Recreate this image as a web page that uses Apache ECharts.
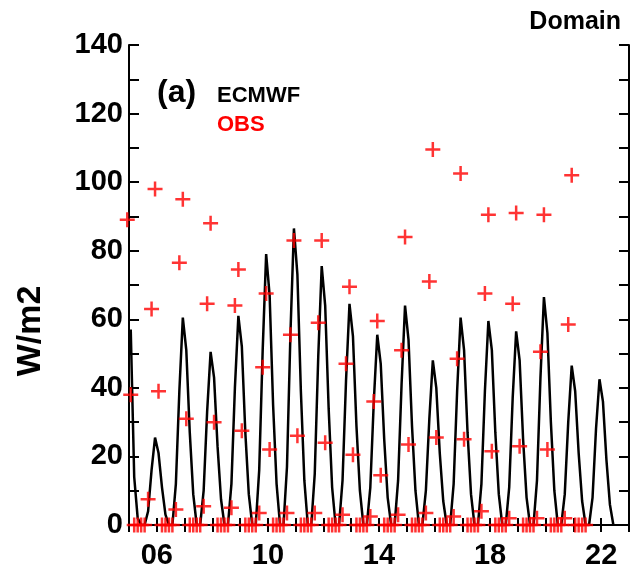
<!DOCTYPE html>
<html>
<head>
<meta charset="utf-8">
<script src="https://cdn.jsdelivr.net/npm/echarts@6/dist/echarts.min.js"></script>
<style>html,body{margin:0;padding:0;background:#fff}#c{width:632px;height:573px}</style>
</head>
<body>
<div id="c"></div>
<script>
// Days covered by each row of values (day of month)
const firstDay = 5;
// 3-hourly sample times relative to each day (fraction of a day)
const hourOffsets = [-0.4375, -0.3125, -0.1875, -0.0625, 0.0625, 0.1875, 0.3125, 0.4375];
// ECMWF model (W/m2), one row per day 05..22
const ecmwfRows = [
  [null, null, null, null, 57, 14, 2, 0],
  [0, 4, 16, 25.5, 21, 11, 3, 0],
  [0, 12, 39, 60.5, 51, 27, 9, 0],
  [0, 10, 33, 50.5, 43, 23, 7.5, 0],
  [0, 12, 40, 61, 52, 27, 9, 0],
  [0, 16, 51, 79, 67, 35, 12, 0],
  [0, 17, 56, 86.5, 73, 39, 13, 0],
  [0, 15, 49, 75.5, 64, 34, 11, 0],
  [0, 13, 42, 64.5, 55, 29, 10, 0],
  [0, 11, 36, 55.5, 47, 25, 8, 0],
  [0, 13, 41, 64, 54, 29, 10, 0],
  [0, 10, 31, 48, 40, 21, 7, 0],
  [0, 12, 39, 60.5, 51, 27, 9, 0],
  [0, 12, 39, 59.5, 51, 27, 9, 0],
  [0, 11, 37, 56.5, 48, 25, 8, 0],
  [0, 13, 43, 66.5, 56, 30, 10, 0],
  [0, 9, 30, 46.5, 39, 21, 7, 0],
  [0, 8, 28, 42.5, 36, 19, 6, 0]
];
// Observations (W/m2), one row per day 05..21
const obsRows = [
  [null, null, null, 89, 38, 0, 0, 0],
  [0, 7.5, 63, 98, 39, 0, 0, 0],
  [0, 4.5, 76.5, 95, 31, 0, 0, 0],
  [0, 5.5, 64.5, 88, 30, 0, 0, 0],
  [0, 5, 64, 74.5, 27.5, 0, 0, 0],
  [0, 3.5, 46, 67.5, 22, 0, 0, 0],
  [0, 3.5, 55.5, 83, 26, 0, 0, 0],
  [0, 3.5, 59, 83, 24, 0, 0, 0],
  [0, 3, 47, 69.5, 20.5, 0, 0, 0],
  [0, 2.5, 36, 59.5, 14.5, 0, 0, 0],
  [0, 3, 51, 84, 23.5, 0, 0, 0],
  [0, 3.5, 71, 109.5, 25.5, 0, 0, 0],
  [0, 2.5, 48.5, 102.5, 25, 0, 0, 0],
  [0, 4, 67.5, 90.5, 21.5, 0, 0, 0],
  [0, 2, 64.5, 91, 23, 0, 0, 0],
  [0, 2, 50.5, 90.5, 22, 0, 0, 0],
  [0, 2, 58.5, 102, 0, 0, 0, 0]
];
const xTickLabels = ['06', '10', '14', '18', '22'];
const yTickLabels = ['0', '20', '40', '60', '80', '100', '120', '140'];

function toPoints(rows) {
  const pts = [];
  rows.forEach((row, i) => {
    row.forEach((v, j) => {
      if (v !== null) pts.push([firstDay + i + hourOffsets[j], v]);
    });
  });
  return pts;
}

const FONT = '"Liberation Sans", Arial, sans-serif';
const plus = 'path://M5,0H7V5H12V7H7V12H5V7H0V5H5Z';

const chart = echarts.init(document.getElementById('c'), null, {renderer: 'canvas'});
const xCommon = {type: 'value', min: 5, max: 23, interval: 1,
  splitLine: {show: false},
  axisLine: {lineStyle: {color: '#000', width: 2}}};
const yCommon = {type: 'value', min: 0, max: 140, interval: 20,
  splitLine: {show: false}, minorSplitLine: {show: false},
  axisLine: {show: true, lineStyle: {color: '#000', width: 2}},
  axisTick: {show: true, inside: true, length: 10, lineStyle: {color: '#000', width: 2}},
  minorTick: {show: true, splitNumber: 2, length: 10, lineStyle: {color: '#000', width: 2}}};

chart.setOption({
  animation: false,
  backgroundColor: '#fff',
  grid: {left: 129, top: 45, width: 505, height: 480},
  xAxis: [
    Object.assign({}, xCommon, {position: 'bottom',
      axisTick: {inside: true, length: 7, lineStyle: {color: '#000', width: 2}},
      axisLabel: {margin: 16, color: '#000', fontFamily: FONT, fontWeight: 'bold', fontSize: 29,
        formatter: v => { const s = String(v).padStart(2, '0'); return xTickLabels.includes(s) ? s : ''; }}}),
    Object.assign({}, xCommon, {position: 'top',
      axisTick: {inside: true, length: 7, lineStyle: {color: '#000', width: 2}},
      axisLabel: {show: false}})
  ],
  yAxis: [
    Object.assign({}, yCommon, {position: 'left',
      axisLabel: {margin: 6, color: '#000', fontFamily: FONT, fontWeight: 'bold', fontSize: 29,
        formatter: v => yTickLabels.includes(String(v)) ? String(v) : ''}}),
    Object.assign({}, yCommon, {position: 'right', axisLabel: {show: false}})
  ],
  graphic: [
    {type: 'text', style: {text: 'Domain', x: 621, y: 22, align: 'right', verticalAlign: 'middle',
      font: 'bold 25px ' + FONT, fill: '#000'}},
    {type: 'text', style: {text: '(a)', x: 157, y: 93, align: 'left', verticalAlign: 'middle',
      font: 'bold 32px ' + FONT, fill: '#000'}},
    {type: 'text', style: {text: 'ECMWF', x: 217, y: 96, align: 'left', verticalAlign: 'middle',
      font: 'bold 22px ' + FONT, fill: '#000'}},
    {type: 'text', style: {text: 'OBS', x: 217, y: 125, align: 'left', verticalAlign: 'middle',
      font: 'bold 22px ' + FONT, fill: '#ff0000'}},
    {type: 'text', x: 31, y: 331, rotation: Math.PI / 2,
      style: {text: 'W/m2', x: 0, y: 0, align: 'center', verticalAlign: 'middle',
      font: 'bold 34px ' + FONT, fill: '#000'}}
  ],
  series: [
    {name: 'ECMWF', type: 'line', xAxisIndex: 0, yAxisIndex: 0, data: toPoints(ecmwfRows),
      showSymbol: false, symbol: 'none', clip: true, z: 2,
      lineStyle: {color: '#000', width: 2.5}},
    {name: 'OBS', type: 'scatter', xAxisIndex: 0, yAxisIndex: 0, data: toPoints(obsRows),
      symbol: plus, symbolSize: 15, clip: false, z: 3,
      itemStyle: {color: '#ff0000'}}
  ]
});
</script>
</body>
</html>
